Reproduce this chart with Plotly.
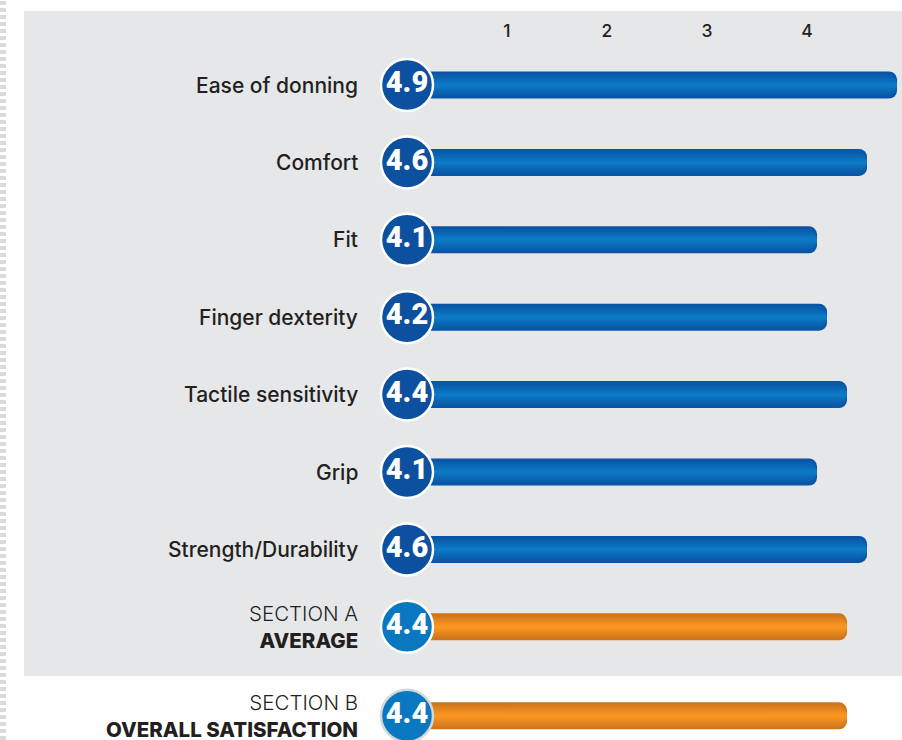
import plotly.graph_objects as go

# ---------------- data ----------------
item_labels = ["Ease of donning", "Comfort", "Fit", "Finger dexterity",
               "Tactile sensitivity", "Grip", "Strength/Durability"]
item_scores = [4.9, 4.6, 4.1, 4.2, 4.4, 4.1, 4.6]

summary_titles = ["SECTION A", "SECTION B"]
summary_labels = ["AVERAGE", "OVERALL SATISFACTION"]
summary_scores = [4.4, 4.4]

tick_values = [1, 2, 3, 4, 5]

# ---------------- geometry / style ----------------
W, H = 902, 740
X0_PX, X_UNIT_PX = 407, 100.0        # pixel of value 0, pixels per unit
Y0_PX, ROW_PX = 85, 77.4             # pixel of first row centre, row pitch
SECTION_GAP = 0.15                   # extra gap (in rows) before section B
BAR_PX = 27
TEXT = "#231f20"
FONT = "Inter"

n_items = len(item_scores)
scores = item_scores + summary_scores
y_pos = list(range(n_items)) + [n_items, n_items + 1 + SECTION_GAP]

x_range = [-X0_PX / X_UNIT_PX, (W - X0_PX) / X_UNIT_PX]
y_range = [(H - Y0_PX) / ROW_PX, -Y0_PX / ROW_PX]
bar_w = BAR_PX / ROW_PX

blue_edge, blue_mid = (9, 84, 164), (11, 121, 196)
orng_edge, orng_mid = (205, 117, 28), (248, 149, 32)


def mix(a, b, t):
    return "rgb(%d,%d,%d)" % tuple(round(a[i] + (b[i] - a[i]) * t) for i in range(3))


fig = go.Figure()

# gradient bars made of stacked (overlaid) bars of decreasing thickness
n_layers = 7
for k in range(n_layers):
    frac = 1 - k / n_layers
    t = k / (n_layers - 1)
    colors = [mix(blue_edge, blue_mid, t)] * n_items + [mix(orng_edge, orng_mid, t)] * len(summary_scores)
    fig.add_trace(go.Bar(
        orientation="h", x=scores, y=y_pos, base=0,
        width=bar_w * frac,
        marker=dict(color=colors, line=dict(width=0), cornerradius=min(8, BAR_PX * frac / 2)),
        hoverinfo="skip", showlegend=False,
    ))

# score badges
circle_colors = ["#0d50a0"] * n_items + ["#0a78c1"] * len(summary_scores)
ring_colors = ["#ffffff"] * (n_items + 1) + ["#d6d7d9"]
fig.add_trace(go.Scatter(
    x=[0] * len(scores), y=y_pos, mode="markers+text",
    text=[f"{v:.1f}" for v in scores], textposition="middle center",
    textfont=dict(family="Roboto", size=29, color="white", weight=900),
    marker=dict(size=52, color=circle_colors, line=dict(color=ring_colors, width=2.5)),
    cliponaxis=False, hoverinfo="skip", showlegend=False,
))

# axis tick labels along the top (last one sits at the page edge, as in the original)
tick_row = (32.5 - Y0_PX) / ROW_PX
tick_pos = ["middle center"] * (len(tick_values) - 1) + ["middle left"]
fig.add_trace(go.Scatter(
    x=tick_values, y=[tick_row] * len(tick_values), mode="text",
    text=[str(t) for t in tick_values], textposition=tick_pos,
    textfont=dict(family=FONT, size=17.5, color=TEXT, weight=500),
    cliponaxis=False, hoverinfo="skip", showlegend=False,
))

# category labels
label_x = (360 - X0_PX) / X_UNIT_PX
annotations = []
for lab, y in zip(item_labels, y_pos[:n_items]):
    annotations.append(dict(
        x=label_x, y=y, xref="x", yref="y", text=lab, showarrow=False,
        xanchor="right", yanchor="middle", align="right",
        font=dict(family=FONT, size=21, color=TEXT, weight=500),
    ))
for title, lab, y in zip(summary_titles, summary_labels, y_pos[n_items:]):
    annotations.append(dict(
        x=label_x, y=y, xref="x", yref="y",
        text=f"{title}<br><span style='font-weight:800'>{lab}</span>",
        showarrow=False, xanchor="right", yanchor="middle", align="right",
        font=dict(family=FONT, size=20.5, color=TEXT, weight=300),
    ))

shapes = [
    # grey panel behind the item rows and section A
    dict(type="rect", xref="paper", yref="paper",
         x0=24 / W, x1=1, y0=1 - 676 / H, y1=1 - 11 / H,
         fillcolor="#e6e7e8", line=dict(width=0), layer="below"),
    # hatched margin strip on the left
    dict(type="line", xref="paper", yref="paper",
         x0=3 / W, x1=3 / W, y0=0, y1=1,
         line=dict(color="#d9dadc", width=6, dash="4px,3px"), layer="below"),
]

fig.update_layout(
    width=W, height=H, margin=dict(l=0, r=0, t=0, b=0),
    paper_bgcolor="white", plot_bgcolor="rgba(0,0,0,0)",
    barmode="overlay", showlegend=False,
    xaxis=dict(range=x_range, visible=False, fixedrange=True),
    yaxis=dict(range=y_range, visible=False, fixedrange=True),
    annotations=annotations, shapes=shapes,
)

fig.write_html(
    "out.html",
    config={"displayModeBar": False},
    post_script="document.body.style.margin='0';document.body.style.overflow='hidden';",
)
